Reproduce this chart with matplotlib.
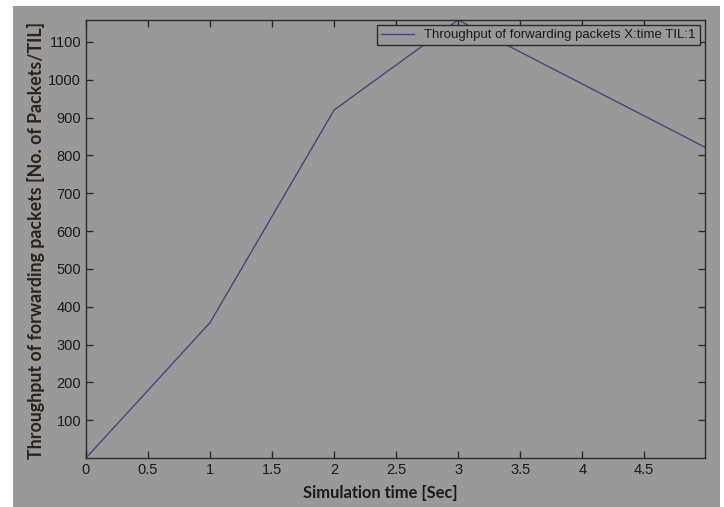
import matplotlib
matplotlib.use('Agg')
import matplotlib.pyplot as plt
from matplotlib.patches import Rectangle

# data
sim_time = [0, 1, 2, 3, 5]
throughput = [0, 358, 920, 1158, 820]
x_ticks = [0, 0.5, 1, 1.5, 2, 2.5, 3, 3.5, 4, 4.5]
y_ticks = [100, 200, 300, 400, 500, 600, 700, 800, 900, 1000, 1100]

BG = '#999999'
TXT = '#1c1a16'

fig = plt.figure(figsize=(7.24, 5.07), dpi=100, facecolor='white')
# gray panel (white margin on top/left/right like the screenshot)
fig.patches.append(Rectangle((13 / 724, 0), (720 - 13) / 724, 1 - 6 / 507,
                             transform=fig.transFigure, facecolor=BG,
                             edgecolor='none', zorder=-10))

ax = fig.add_axes([86 / 724, 1 - 458 / 507, (705 - 86) / 724, (458 - 20) / 507])
ax.set_facecolor(BG)
ax.plot(sim_time, throughput, color='#46467a', lw=1.0,
        label='Throughput of forwarding packets X:time TIL:1')

ax.set_xlim(0, 4.99)
ax.set_ylim(0, 1158)
ax.set_xticks(x_ticks)
ax.set_xticklabels([f'{t:g}' for t in x_ticks])
ax.set_yticks(y_ticks)

for s in ax.spines.values():
    s.set_color('#2a2a2a')
    s.set_linewidth(1.0)
ax.tick_params(direction='in', top=True, right=True, length=5, width=1,
               color='#2a2a2a', labelcolor=TXT, labelsize=10.5)
for lb in ax.get_xticklabels() + ax.get_yticklabels():
    lb.set_family('Liberation Sans')

ax.set_xlabel('Simulation time [Sec]', fontsize=11.9, fontweight='bold',
              family='Lato', color=TXT, va='center')
ax.xaxis.set_label_coords(0.475, -0.080)
ax.set_ylabel('Throughput of forwarding packets [No. of Packets/TIL]', fontsize=12.8,
              fontweight='bold', family='Lato', color='#2e2214', va='center')
ax.yaxis.set_label_coords(-0.081, 0.497)

leg = ax.legend(loc='upper right', fancybox=False, frameon=True,
                borderaxespad=0.4, handlelength=2.5, borderpad=0.3,
                prop={'family': 'Liberation Sans', 'size': 9.5})
leg.get_frame().set_facecolor(BG)
leg.get_frame().set_edgecolor('#2a2a2a')
leg.get_frame().set_alpha(1)
for t in leg.get_texts():
    t.set_color(TXT)

fig.savefig('out.png', dpi=100, facecolor=fig.get_facecolor())
